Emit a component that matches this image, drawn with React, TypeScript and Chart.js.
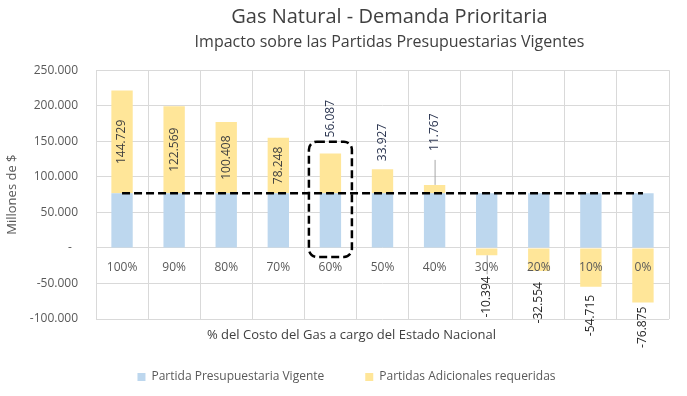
import React, { useEffect, useRef } from "react";
import { Chart, registerables } from "chart.js";

Chart.register(...registerables);

const categories = ["100%", "90%", "80%", "70%", "60%", "50%", "40%", "30%", "20%", "10%", "0%"];
const partidaVigente = [76875, 76875, 76875, 76875, 76875, 76875, 76875, 76875, 76875, 76875, 76875];
const partidasAdicionales = [144729, 122569, 100408, 78248, 56087, 33927, 11767, -10394, -32554, -54715, -76875];
const referenceLine = [76875, 76875, 76875, 76875, 76875, 76875, 76875, 76875, 76875, 76875, 76875];
const yTicks = [-100000, -50000, 0, 50000, 100000, 150000, 200000, 250000];
const highlightIndex = 4;
const highlightRange = [-12700, 149500];

const TITLE = "Gas Natural - Demanda Prioritaria";
const SUBTITLE = "Impacto sobre las Partidas Presupuestarias Vigentes";
const X_TITLE = "% del Costo del Gas a cargo del Estado Nacional";

// label placement style (pixels): null = centered inside segment
const labelGaps: (number | null)[] = [null, null, null, null, 16, 8, 34, 21, 11, 8, 4];
const leaderLines = [false, false, false, false, false, false, true, true, false, false, false];

const FONT = "'Open Sans', 'Noto Sans', sans-serif";
const BLUE = "#BDD7EE";
const YELLOW = "#FFE699";

function fmt(n: number): string {
  const s = Math.round(Math.abs(n)).toString().replace(/\B(?=(\d{3})+(?!\d))/g, ".");
  return (n < 0 ? "-" : "") + s;
}

const labelPlugin = {
  id: "valueLabels",
  afterLayout(chart: any) {
    chart.boxes.forEach((b: any) => {
      if (b === chart.legend) b.left += 24;
      else if (b.options && (b.options.text === TITLE || b.options.text === SUBTITLE)) b.left += 14;
    });
  },
  afterDatasetsDraw(chart: any) {
    const ctx = chart.ctx;
    const meta = chart.getDatasetMeta(2);
    const yScale = chart.scales.y;
    ctx.save();
    ctx.font = `12px ${FONT}`;
    ctx.textBaseline = "middle";
    meta.data.forEach((bar: any, i: number) => {
      const v = partidasAdicionales[i];
      const { x, y, base } = bar.getProps(["x", "y", "base"], true);
      const top = Math.min(y, base);
      const bottom = Math.max(y, base);
      const gap = labelGaps[i];
      let ax: number, ay: number, align: CanvasTextAlign;
      if (gap === null) {
        ax = x; ay = (top + bottom) / 2; align = "center";
        ctx.fillStyle = "#404040";
      } else if (v >= 0) {
        ax = x; ay = top - gap; align = "left";
        ctx.fillStyle = "#2B3550";
        if (leaderLines[i]) {
          ctx.strokeStyle = "#A6A6A6"; ctx.lineWidth = 1;
          ctx.beginPath(); ctx.moveTo(x + 0.5, top); ctx.lineTo(x + 0.5, ay + 9); ctx.stroke();
        }
      } else {
        ax = x; ay = bottom + gap; align = "right";
        ctx.fillStyle = "#262626";
        if (leaderLines[i]) {
          ctx.strokeStyle = "#A6A6A6"; ctx.lineWidth = 1;
          ctx.beginPath(); ctx.moveTo(x + 0.5, bottom); ctx.lineTo(x + 0.5, ay - 2); ctx.stroke();
        }
      }
      ctx.save();
      ctx.translate(ax, ay);
      ctx.rotate(-Math.PI / 2);
      ctx.textAlign = align;
      ctx.fillText(fmt(v), 0, 0);
      ctx.restore();
    });
    // highlight rounded dashed rectangle
    const xScale = chart.scales.x;
    const cx = xScale.getPixelForValue(highlightIndex);
    const hw = 21.5;
    const y1 = yScale.getPixelForValue(highlightRange[1]);
    const y2 = yScale.getPixelForValue(highlightRange[0]);
    ctx.strokeStyle = "#000";
    ctx.lineWidth = 2.5;
    ctx.setLineDash([8, 4]);
    ctx.beginPath();
    ctx.roundRect(cx - hw, y1, hw * 2, y2 - y1, 8);
    ctx.stroke();
    ctx.setLineDash([]);
    ctx.restore();
  },
  afterDraw(chart: any) {
    const ctx = chart.ctx;
    ctx.save();
    ctx.font = `13px ${FONT}`;
    ctx.fillStyle = "#404040";
    ctx.textAlign = "center";
    ctx.textBaseline = "middle";
    ctx.fillText(X_TITLE, chart.width / 2 + 8, chart.chartArea.bottom + 16);
    ctx.restore();
  },
};

export default function App() {
  const ref = useRef<HTMLCanvasElement>(null);
  useEffect(() => {
    document.body.style.margin = "0";
    Chart.defaults.font.family = FONT;
    Chart.defaults.color = "#595959";
    const chart = new Chart(ref.current!, {
      type: "bar",
      data: {
        labels: categories,
        datasets: [
          {
            type: "line",
            label: "ref",
            data: referenceLine,
            borderColor: "#000",
            borderWidth: 2.5,
            borderDash: [8, 4],
            pointRadius: 0,
            fill: false,
            stack: "line",
            order: -1,
            xAxisID: "x",
            yAxisID: "y",
          } as any,
          {
            label: "Partida Presupuestaria Vigente",
            data: partidaVigente,
            backgroundColor: BLUE,
            barPercentage: 0.41,
            categoryPercentage: 1,
            stack: "s",
            xAxisID: "x",
            yAxisID: "y",
          },
          {
            label: "Partidas Adicionales requeridas",
            data: partidasAdicionales,
            backgroundColor: YELLOW,
            barPercentage: 0.41,
            categoryPercentage: 1,
            stack: "s",
            xAxisID: "x",
            yAxisID: "y",
          },
        ],
      },
      options: {
        animation: false,
        responsive: true,
        maintainAspectRatio: false,
        layout: { padding: { left: 0, right: 18, top: 0, bottom: 3 } },
        plugins: {
          tooltip: { enabled: false },
          title: {
            display: true,
            text: TITLE,
            fullSize: false,
            color: "#404040",
            font: { size: 20, weight: "normal", family: FONT },
            padding: { top: 5, bottom: 0 },
          },
          subtitle: {
            display: true,
            text: SUBTITLE,
            fullSize: false,
            color: "#404040",
            font: { size: 16, weight: "normal", family: FONT },
            padding: { top: 4, bottom: 18 },
          },
          legend: {
            position: "bottom",
            labels: {
              filter: (item: any) => item.datasetIndex !== 0,
              boxWidth: 8,
              boxHeight: 8,
              padding: 41,
              color: "#595959",
              font: { size: 12, family: FONT },
            },
          },
        },
        scales: {
          x: {
            stacked: true,
            position: { y: 0 } as any,
            grid: { color: "#D9D9D9", drawTicks: false, offset: true },
            border: { display: false },
            ticks: { z: 1, padding: 12, color: "#595959", font: { size: 12, family: FONT } },
          },
          xSpace: {
            type: "category",
            position: "bottom",
            display: true,
            grid: { display: false },
            border: { display: false },
            ticks: { display: false },
            afterFit: (scale: any) => {
              scale.height = 11;
            },
          } as any,
          y: {
            stacked: true,
            min: -100000,
            max: 250000,
            afterBuildTicks: (scale: any) => {
              scale.ticks = yTicks.map((v) => ({ value: v }));
            },
            afterFit: (scale: any) => {
              scale.width = 96;
            },
            grid: { color: "#D9D9D9", drawTicks: false },
            border: { display: false },
            ticks: {
              padding: 18,
              color: "#595959",
              font: { size: 12, family: FONT },
              callback: (v: any) => (Number(v) === 0 ? "-  " : fmt(Number(v))),
            },
            title: {
              display: true,
              text: "Millones de $",
              color: "#595959",
              font: { size: 13, family: FONT },
              padding: { top: 4, bottom: 0 },
            },
          },
        },
      },
      plugins: [labelPlugin],
    });
    return () => chart.destroy();
  }, []);
  return (
    <div style={{ width: 687, height: 396, position: "relative" }}>
      <canvas ref={ref} />
    </div>
  );
}
